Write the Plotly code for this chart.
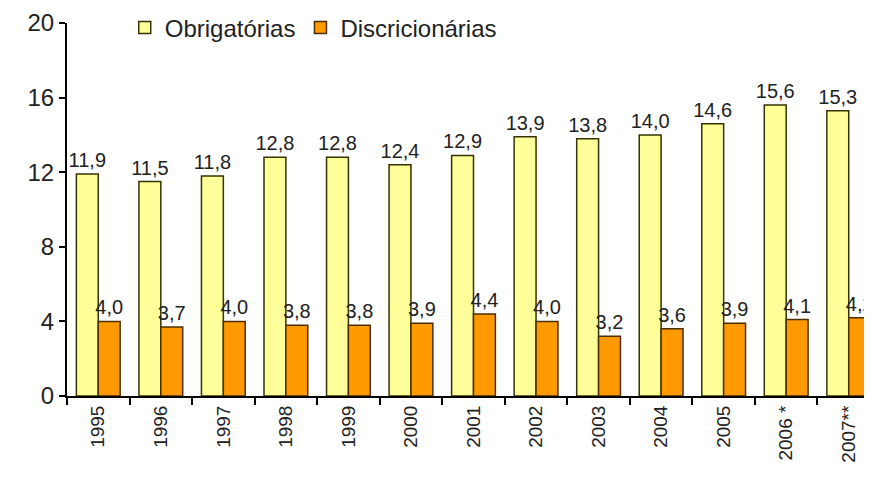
import plotly.graph_objects as go

years = ['1995', '1996', '1997', '1998', '1999', '2000', '2001', '2002',
         '2003', '2004', '2005', '2006 *', '2007**']
obrigatorias = [11.9, 11.5, 11.8, 12.8, 12.8, 12.4, 12.9, 13.9, 13.8, 14.0, 14.6, 15.6, 15.3]
discricionarias = [4.0, 3.7, 4.0, 3.8, 3.8, 3.9, 4.4, 4.0, 3.2, 3.6, 3.9, 4.1, 4.2]

font_family = 'Liberation Sans, Arial, sans-serif'

fig = go.Figure()

fig.add_trace(go.Bar(
    x=years, y=obrigatorias,
    name='Obrigatórias',
    marker=dict(color='#FFFF99', line=dict(color='#333300', width=1.5)),
    texttemplate='%{y:.1f}',
    textposition='outside',
    textfont=dict(size=20, color='#222222'),
    cliponaxis=False,
))
fig.add_trace(go.Bar(
    x=years, y=discricionarias,
    name='Discricionárias',
    marker=dict(color='#FF9900', line=dict(color='#4d2e00', width=1.5)),
    texttemplate='%{y:.1f}',
    textposition='outside',
    textfont=dict(size=20, color='#222222'),
    cliponaxis=False,
))

fig.update_layout(
    width=872, height=477,
    paper_bgcolor='white', plot_bgcolor='white',
    font=dict(family=font_family, size=20, color='#222222'),
    separators=',.',
    barmode='group',
    bargap=0.3,
    bargroupgap=0,
    uniformtext=dict(minsize=20, mode='show'),
    # page has an 8px body margin, so shift the plot area back
    margin=dict(l=59, r=0, t=15, b=89, autoexpand=False),
    showlegend=True,
    legend=dict(
        orientation='h',
        x=0.071, xanchor='left',
        y=0.987, yanchor='middle',
        font=dict(size=24),
        bgcolor='rgba(0,0,0,0)',
        itemwidth=30,
    ),
    xaxis=dict(
        type='category',
        range=[-0.5, 12.5],
        automargin=False,
        showline=True, linecolor='black', linewidth=2,
        ticks='outside', tickson='boundaries', ticklen=7, tickcolor='black', tickwidth=2,
        tickangle=-90,
        tickfont=dict(size=19),
        showgrid=False,
    ),
    yaxis=dict(
        range=[0, 20],
        tickvals=[0, 4, 8, 12, 16, 20],
        automargin=False,
        showline=True, linecolor='black', linewidth=2,
        ticks='outside', ticklen=6, tickcolor='black', tickwidth=2,
        tickfont=dict(size=24),
        showgrid=False, zeroline=False,
    ),
)

fig.write_html("out.html")
